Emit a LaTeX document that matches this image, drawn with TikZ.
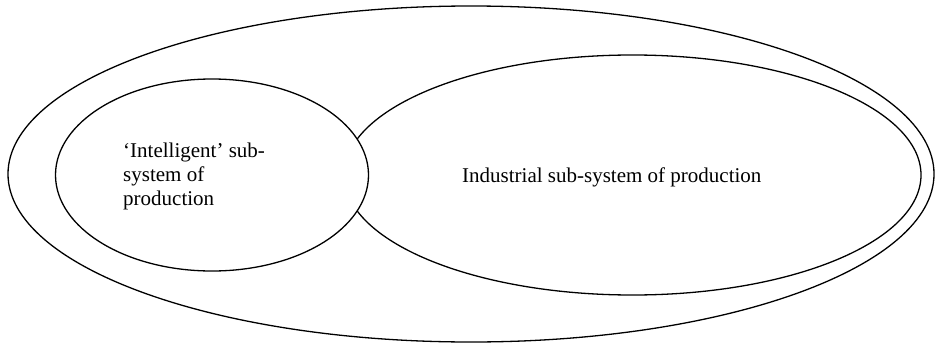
\documentclass[tikz,border=0pt]{standalone}
\usepackage{fontspec}
\setmainfont{Liberation Serif}
\usetikzlibrary{shapes.geometric}
\tikzset{
  oval/.style={draw=black, line width=1.3pt, ellipse, inner sep=0pt},
  lbl/.style={font=\fontsize{21}{24}\selectfont, inner sep=0pt, align=left}
}
\begin{document}
\begin{tikzpicture}[x=1pt,y=-1pt]
\useasboundingbox (0,0) rectangle (936,345);
\node[oval, minimum width=926pt, minimum height=336pt] (outer) at (471,174) {};
\node[oval, minimum width=577pt, minimum height=240pt] (industrial) at (632.5,175) {};
\node[oval, fill=white, minimum width=313pt, minimum height=192pt] (intelligent) at (212,175) {};
\node[lbl, anchor=base west] (inttext) at (123,205) {‘Intelligent’ sub-\\system of\\production};
\node[lbl, anchor=base west] (indtext) at (462,182) {Industrial sub-system of production};
\end{tikzpicture}
\end{document}
